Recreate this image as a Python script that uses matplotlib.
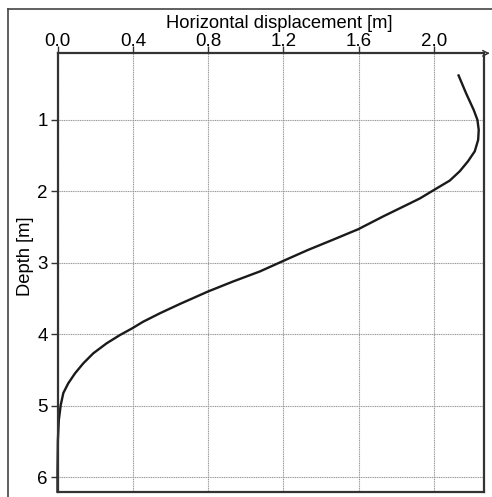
import matplotlib
matplotlib.use('Agg')
import matplotlib.pyplot as plt
from matplotlib.lines import Line2D

plt.rcParams['font.family'] = ['Liberation Sans', 'DejaVu Sans']

# values
depth = [0.38, 0.63, 0.86, 1.00, 1.14, 1.28, 1.44, 1.58, 1.72, 1.85, 1.98,
         2.10, 2.17, 2.26, 2.35, 2.53, 2.68, 2.82, 2.96, 3.12, 3.26, 3.40,
         3.575, 3.705, 3.823, 3.915, 4.009, 4.125, 4.265, 4.405, 4.545, 4.685,
         4.82, 4.99, 5.20, 5.48, 5.9, 6.2]
disp = [2.13, 2.17, 2.21, 2.23, 2.237, 2.234, 2.216, 2.18, 2.136, 2.083, 2.0,
        1.924, 1.87, 1.80, 1.73, 1.597, 1.46, 1.33, 1.21, 1.075, 0.933, 0.80,
        0.650, 0.544, 0.455, 0.397, 0.332, 0.261, 0.19, 0.137, 0.093, 0.057,
        0.031, 0.017, 0.007, 0.002, 0.0, 0.0]
xticks = [0.0, 0.4, 0.8, 1.2, 1.6, 2.0]
yticks = [1, 2, 3, 4, 5, 6]

W, H = 492, 497
fig = plt.figure(figsize=(W / 100, H / 100), dpi=100)
ax = fig.add_axes([57.5 / W, 1 - 491.7 / H, (484 - 57.5) / W, (491.7 - 53.3) / H])

ax.plot(disp, depth, color='#1a1a1a', lw=1.7, clip_on=False)

ax.set_xlim(0, 2.265)
ax.set_ylim(6.2, 0.07)
ax.xaxis.tick_top()
ax.xaxis.set_label_position('top')
ax.set_xticks(xticks)
ax.set_xticklabels(['%.1f' % v for v in xticks])
ax.set_yticks(yticks)
ax.tick_params(labelsize=13.5, length=5, width=1, color='#333333', pad=2)
ax.tick_params(axis='x', pad=-2.5)
ax.set_xlabel('Horizontal displacement [m]', fontsize=13.2)
ax.set_ylabel('Depth [m]', fontsize=13.2)
ax.xaxis.set_label_coords(0.52, 1.058)
ax.yaxis.set_label_coords(-0.056, 0.538)
ax.grid(True, color='#999999', lw=0.8, ls=(0, (1, 0.6)))

for s in ax.spines.values():
    s.set_color('#333333')
    s.set_linewidth(1.6)

# arrow at the end of the x axis
ax.annotate('', xy=(1.02, 1.0), xytext=(1.0, 1.0), xycoords='axes fraction',
            arrowprops=dict(arrowstyle='->', color='#333333', lw=1))

# outer frame of the picture
fig.add_artist(Line2D([8 / W, 1], [1 - 9 / H, 1 - 9 / H], color='#444444', lw=1.2))
fig.add_artist(Line2D([8 / W, 8 / W], [0, 1 - 9 / H], color='#444444', lw=1.2))

fig.savefig('out.png', dpi=100)
